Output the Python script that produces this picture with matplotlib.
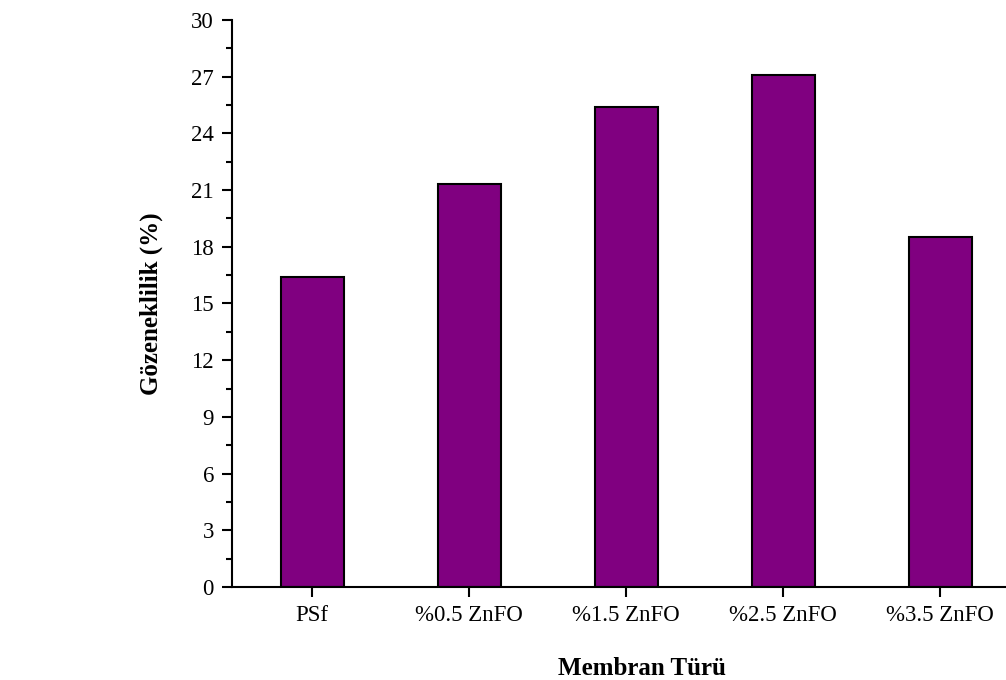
import numpy as np
import matplotlib.pyplot as plt
from matplotlib.ticker import MultipleLocator

plt.rcParams['font.family'] = ['Liberation Serif', 'DejaVu Serif']

# Porosity of the membranes
membranes = ['PSf', '%0.5 ZnFO', '%1.5 ZnFO', '%2.5 ZnFO', '%3.5 ZnFO']
porosity = [16.4, 21.3, 25.4, 27.1, 18.5]

fig = plt.figure(figsize=(10.06, 6.8), dpi=100)
# the plot runs a little past the right edge of the picture
ax = fig.add_axes([0.2306, 0.1368, 0.815, 0.8338])

x = np.arange(len(membranes))
ax.bar(x, porosity, width=0.4, color='#800080', edgecolor='black', linewidth=1.5)

ax.set_xlim(-0.51, 4.71)
ax.set_ylim(0, 30)
ax.yaxis.set_major_locator(MultipleLocator(3))
ax.yaxis.set_minor_locator(MultipleLocator(1.5))
ax.set_xticks(x)
ax.set_xticklabels(membranes)

for side in ['top', 'right']:
    ax.spines[side].set_visible(False)
for side in ['left', 'bottom']:
    ax.spines[side].set_linewidth(1.5)

ax.tick_params(axis='both', direction='out', labelsize=16.5, width=1.5, length=7, pad=6)
ax.tick_params(axis='y', which='minor', direction='out', width=1.5, length=4)

ax.set_ylabel('Gözeneklilik (%)', fontsize=18, fontweight='bold', labelpad=20)
ax.set_xlabel('Membran Türü', fontsize=18, fontweight='bold', labelpad=22)

fig.savefig('out.png', dpi=100)
